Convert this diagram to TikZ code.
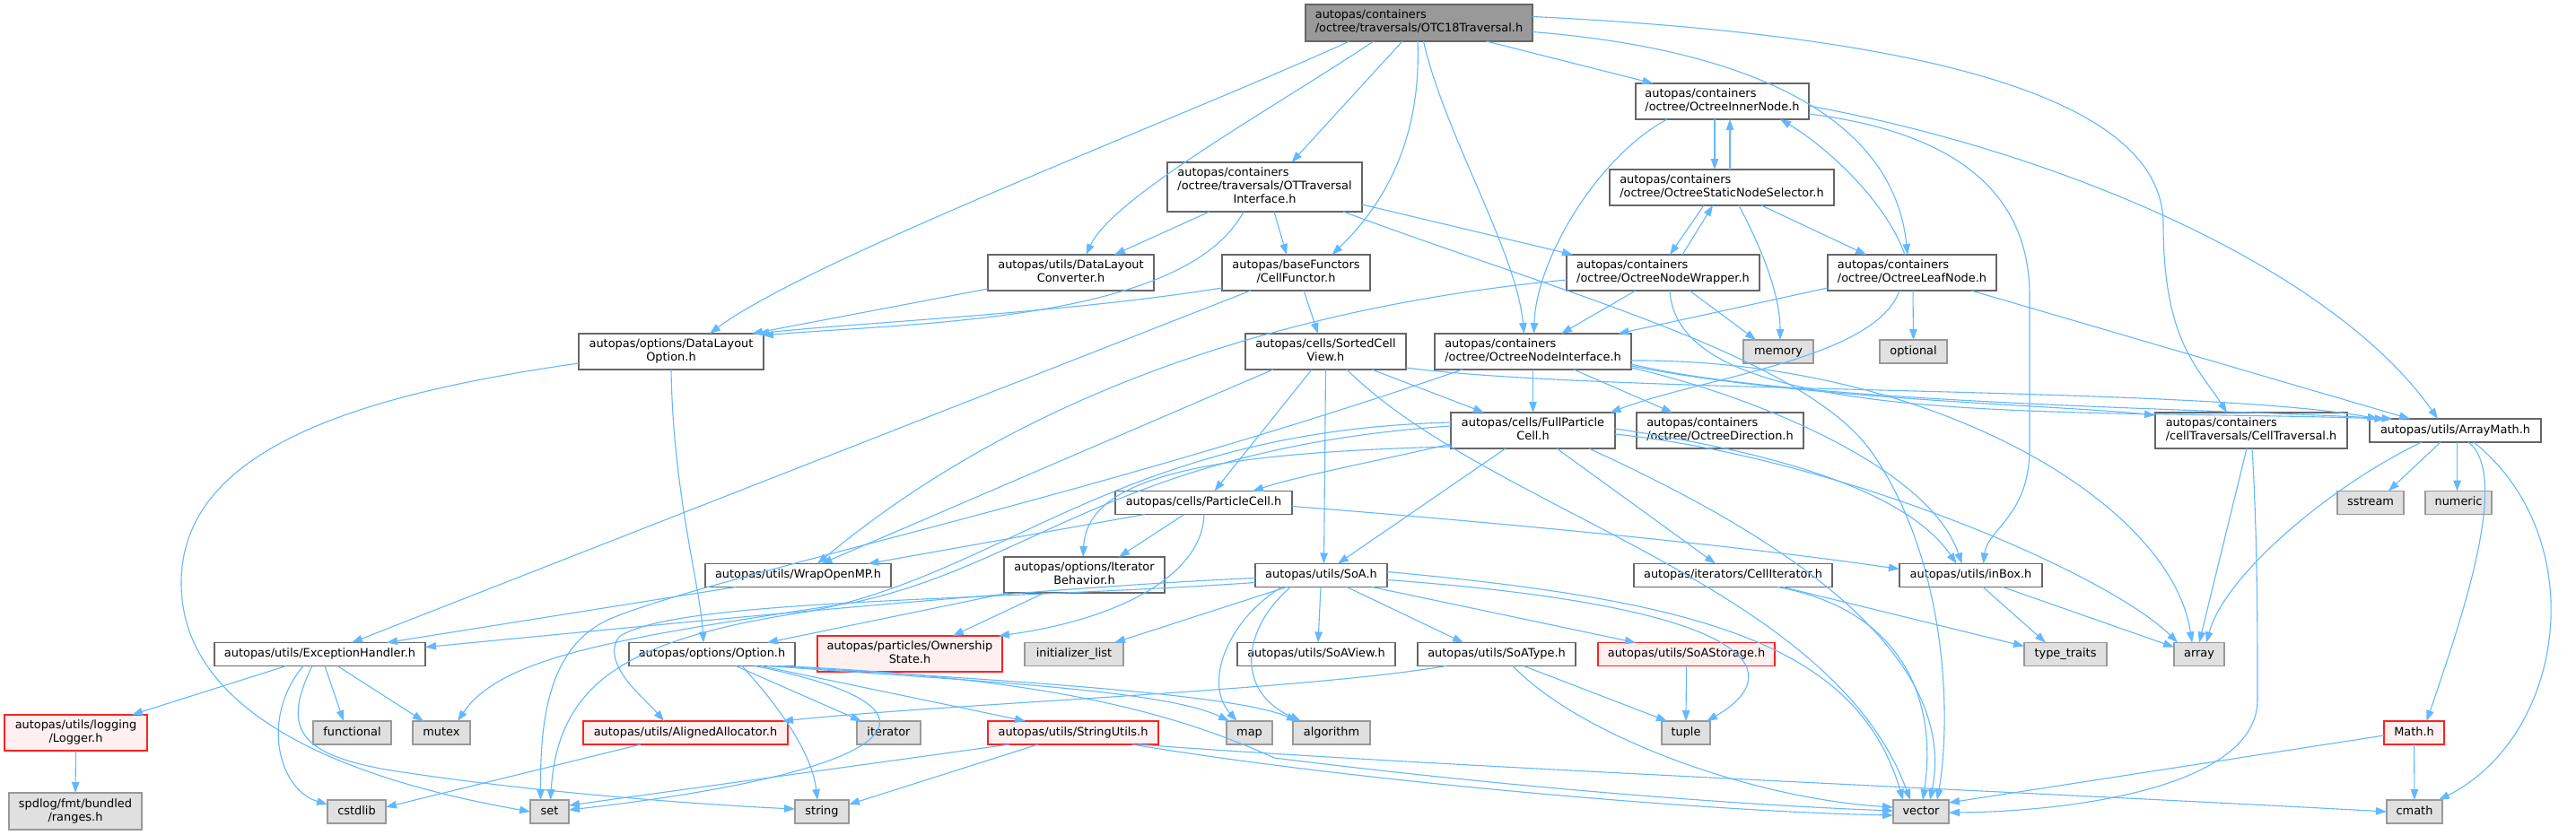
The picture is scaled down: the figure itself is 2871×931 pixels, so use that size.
\documentclass[tikz,border=0pt]{standalone}
\usepackage{fontspec}
\setmainfont{DejaVu Sans}
\usetikzlibrary{arrows.meta,calc}
\definecolor{edgec}{HTML}{63B8FF}
\definecolor{rootfill}{HTML}{999999}
\definecolor{bord}{HTML}{666666}
\definecolor{sysfill}{HTML}{E0E0E0}
\definecolor{sysbord}{HTML}{999999}
\definecolor{trfill}{HTML}{FFF0F0}
\definecolor{trbord}{HTML}{FF2020}
\newcommand\twol[2]{\begin{tabular}{@{}l@{}}#1\\\multicolumn{1}{@{}c@{}}{#2}\end{tabular}}
\begin{document}
\begin{tikzpicture}[x=1pt,y=-1pt,
  nbox/.style={draw=bord,fill=white,line width=1.4pt,inner sep=0pt,outer sep=0pt,align=center,font=\fontsize{12.9}{15}\selectfont},
  one/.style={text height=9.7pt,text depth=2.9pt},
  sys/.style={nbox,one,draw=sysbord,fill=sysfill},
  trunc/.style={nbox,draw=trbord,fill=trfill},
  rootn/.style={nbox,fill=rootfill},
  edg/.style={draw=edgec,line width=1.1pt,-{Triangle[length=12pt,width=8.5pt]}}]
\fill[white] (0,0) rectangle (2871,931);
\useasboundingbox (0,0) rectangle (2871,931);
% ---------------- nodes ----------------
\node[rootn,minimum width=253,minimum height=41] (T) at (1581.5,25.5) {\twol{autopas/containers}{/octree/traversals/OTC18Traversal.h}};
\node[nbox,minimum width=193,minimum height=40] (IN) at (1919.5,113) {\twol{autopas/containers}{/octree/OctreeInnerNode.h}};
\node[nbox,minimum width=217,minimum height=55] (OTI) at (1409.5,208.5) {\twol{autopas/containers\\/octree/traversals/OTTraversal}{Interface.h}};
\node[nbox,minimum width=250,minimum height=40] (SNS) at (1919,209) {\twol{autopas/containers}{/octree/OctreeStaticNodeSelector.h}};
\node[nbox,minimum width=185,minimum height=40] (DLC) at (1193.5,304) {\twol{autopas/utils/DataLayout}{Converter.h}};
\node[nbox,minimum width=165,minimum height=40] (CF) at (1444.5,304) {\twol{autopas/baseFunctors}{/CellFunctor.h}};
\node[nbox,minimum width=215,minimum height=40] (NW) at (1853.5,304) {\twol{autopas/containers}{/octree/OctreeNodeWrapper.h}};
\node[nbox,minimum width=188,minimum height=40] (LN) at (2131,304) {\twol{autopas/containers}{/octree/OctreeLeafNode.h}};
\node[nbox,minimum width=206,minimum height=40] (DLO) at (748,392) {\twol{autopas/options/DataLayout}{Option.h}};
\node[nbox,minimum width=179,minimum height=40] (SCV) at (1477.5,392) {\twol{autopas/cells/SortedCell}{View.h}};
\node[nbox,minimum width=219,minimum height=40] (NI) at (1708.5,392) {\twol{autopas/containers}{/octree/OctreeNodeInterface.h}};
\node[sys,minimum width=78,minimum height=26] (MEM) at (1982,392) {memory};
\node[sys,minimum width=75,minimum height=26] (OPT) at (2132.5,392) {optional};
\node[nbox,minimum width=183,minimum height=40] (FPC) at (1708.5,480) {\twol{autopas/cells/FullParticle}{Cell.h}};
\node[nbox,minimum width=186,minimum height=40] (OD) at (1917,480) {\twol{autopas/containers}{/octree/OctreeDirection.h}};
\node[nbox,minimum width=214,minimum height=40] (CT) at (2509,480) {\twol{autopas/containers}{/cellTraversals/CellTraversal.h}};
\node[nbox,one,minimum width=191,minimum height=26] (AM) at (2736.5,480) {autopas/utils/ArrayMath.h};
\node[nbox,one,minimum width=197,minimum height=26] (PC) at (1341.5,560.5) {autopas/cells/ParticleCell.h};
\node[sys,minimum width=74,minimum height=26] (SS) at (2642,560.5) {sstream};
\node[sys,minimum width=74,minimum height=26] (NUM) at (2740,560.5) {numeric};
\node[nbox,one,minimum width=207,minimum height=26] (WO) at (889.5,641.5) {autopas/utils/WrapOpenMP.h};
\node[nbox,minimum width=179,minimum height=40] (IB) at (1208.5,641) {\twol{autopas/options/Iterator}{Behavior.h}};
\node[nbox,one,minimum width=147,minimum height=26] (SoA) at (1472.5,641.5) {autopas/utils/SoA.h};
\node[nbox,one,minimum width=221,minimum height=26] (CI) at (1931.5,641.5) {autopas/iterators/CellIterator.h};
\node[nbox,one,minimum width=159,minimum height=26] (IBX) at (2196.5,641.5) {autopas/utils/inBox.h};
\node[nbox,one,minimum width=235,minimum height=26] (EH) at (356.5,729.5) {autopas/utils/ExceptionHandler.h};
\node[nbox,one,minimum width=185,minimum height=26] (OPTN) at (793.5,729.5) {autopas/options/Option.h};
\node[trunc,minimum width=206,minimum height=40] (OS) at (1014,729) {\twol{autopas/particles/Ownership}{State.h}};
\node[sys,minimum width=110,minimum height=26] (IL) at (1197,729.5) {initializer\_list};
\node[nbox,one,minimum width=176,minimum height=26] (SV) at (1467,729.5) {autopas/utils/SoAView.h};
\node[nbox,one,minimum width=176,minimum height=26] (ST) at (1668,729.5) {autopas/utils/SoAType.h};
\node[trunc,one,minimum width=197,minimum height=26] (SST) at (1879.5,729.5) {autopas/utils/SoAStorage.h};
\node[sys,minimum width=92,minimum height=26] (TT) at (2302,729.5) {type\_traits};
\node[sys,minimum width=56,minimum height=26] (ARR) at (2451,729.5) {array};
\node[trunc,minimum width=159,minimum height=40] (LOG) at (84.5,817) {\twol{autopas/utils/logging}{/Logger.h}};
\node[sys,minimum width=87,minimum height=26] (FUN) at (392.5,817) {functional};
\node[sys,minimum width=64,minimum height=26] (MUT) at (492,817) {mutex};
\node[trunc,one,minimum width=228,minimum height=26] (AA) at (764,817) {autopas/utils/AlignedAllocator.h};
\node[sys,minimum width=71,minimum height=26] (ITR) at (990.5,817) {iterator};
\node[trunc,one,minimum width=190,minimum height=26] (SU) at (1196,817) {autopas/utils/StringUtils.h};
\node[sys,minimum width=51,minimum height=26] (MAP) at (1392.5,817) {map};
\node[sys,minimum width=86,minimum height=26] (ALG) at (1484,817) {algorithm};
\node[sys,minimum width=54,minimum height=26] (TUP) at (1879,817) {tuple};
\node[trunc,one,minimum width=67,minimum height=26] (MATH) at (2690.5,817) {Math.h};
\node[nbox,draw=sysbord,fill=sysfill,minimum width=148,minimum height=41] (SPD) at (84,904.5) {\twol{spdlog/fmt/bundled}{/ranges.h}};
\node[sys,minimum width=65,minimum height=26] (CST) at (397.5,905) {cstdlib};
\node[sys,minimum width=43,minimum height=26] (SET) at (612.5,905) {set};
\node[sys,minimum width=60,minimum height=26] (STR) at (916,905) {string};
\node[sys,minimum width=62,minimum height=26] (VEC) at (2141,905) {vector};
\node[sys,minimum width=62,minimum height=26] (CM) at (2691,905) {cmath};
% ---------------- edges ----------------
% OTC18Traversal
\draw[edg] ($(T.south)+(-77.5,0)$) .. controls (1320,130) and (900,290) .. ($(DLO.north)+(43,0)$);
\draw[edg] ($(T.south)+(-50.5,0)$) .. controls (1420,120) and (1240,220) .. ($(DLC.north)+(17,0)$);
\draw[edg] ($(T.south)+(-18.5,0)$) -- ($(OTI.north)+(30,0)$);
\draw[edg] ($(T.south)+(-1.5,0)$) .. controls (1585,170) and (1530,240) .. ($(CF.north)+(40,0)$);
\draw[edg] ($(T.south)+(5,0)$) .. controls (1610,150) and (1690,280) .. ($(NI.north)+(-10,0)$);
\draw[edg] ($(T.south)+(75,0)$) -- ($(IN.north)+(-77,0)$);
\draw[edg] ($(T.east)+(0,10)$) .. controls (1950,55) and (2110,130) .. ($(LN.north)+(-5,0)$);
\draw[edg] ($(T.east)+(0,-7)$) .. controls (2150,40) and (2411,110) .. (2411,250) .. controls (2411,380) and (2450,410) .. ($(CT.north)+(-27,0)$);
% OTTraversalInterface
\draw[edg] ($(OTI.south)+(-61.5,0)$) -- ($(DLC.north)+(48.5,0)$);
\draw[edg] ($(OTI.south)+(-23.5,0)$) .. controls (1320,360) and (1010,360) .. ($(DLO.north east)+(-1,2)$);
\draw[edg] ($(OTI.south)+(10.5,0)$) -- ($(CF.north)+(-10.5,0)$);
\draw[edg] ($(OTI.east)+(0,19.5)$) -- ($(NW.north)+(-100.5,0)$);
\draw[edg] ($(OTI.south)+(87.5,0)$) .. controls (1750,330) and (2020,400) .. (2090,510) .. controls (2170,630) and (2175,800) .. ($(VEC.north)+(18,0)$);
% DataLayoutConverter, CellFunctor
\draw[edg] ($(DLC.south west)+(0,-2)$) -- ($(DLO.north east)+(-13,0)$);
\draw[edg] ($(CF.south west)+(0,-3)$) .. controls (1180,350) and (950,360) .. ($(DLO.north east)+(-6,0)$);
\draw[edg] ($(CF.south)+(8.5,0)$) -- ($(SCV.north)+(-8.5,0)$);
\draw[edg] ($(CF.south)+(-50.5,0)$) -- ($(EH.north)+(35.5,0)$);
% OctreeInnerNode
\draw[edg] ($(IN.south)+(-8.5,0)$) -- ($(SNS.north)+(-8,0)$);
\draw[edg] ($(SNS.north)+(9,0)$) -- ($(IN.south)+(8.5,0)$);
\draw[edg] ($(IN.south)+(-61.5,0)$) .. controls (1780,175) and (1712,290) .. ($(NI.north)+(1,0)$);
\draw[edg] ($(IN.east)+(0,14)$) .. controls (2200,150) and (2262,230) .. (2262,330) -- (2262,500) .. controls (2262,575) and (2215,590) .. ($(IBX.north)+(14,0)$);
\draw[edg] ($(IN.east)+(0,5)$) .. controls (2300,170) and (2600,300) .. ($(AM.north)+(-19.5,0)$);
% OctreeStaticNodeSelector
\draw[edg] ($(SNS.south)+(-20,0)$) -- ($(NW.north)+(7.5,0)$);
\draw[edg] ($(NW.north)+(21.5,0)$) -- ($(SNS.south)+(-10,0)$);
\draw[edg] ($(SNS.south)+(19,0)$) .. controls (1965,280) and (1984,330) .. ($(MEM.north)+(2,0)$);
\draw[edg] ($(SNS.south)+(44,0)$) -- ($(LN.north)+(-51,0)$);
% OctreeLeafNode
\draw[edg] ($(LN.north)+(-8,0)$) .. controls (2100,220) and (2030,160) .. ($(IN.south)+(64.5,0)$);
\draw[edg] ($(LN.south west)+(0,-3)$) -- ($(NI.north)+(95,0)$);
\draw[edg] ($(LN.south)+(-14,0)$) .. controls (2090,400) and (1900,420) .. ($(FPC.north)+(86,0)$);
\draw[edg] ($(LN.south)+(1,0)$) -- (OPT.north);
\draw[edg] ($(LN.south)+(66,0)$) -- ($(AM.north)+(-50.5,0)$);
% OctreeNodeWrapper
\draw[edg] ($(NW.south)+(-30.5,0)$) -- ($(NI.north)+(31.5,0)$);
\draw[edg] ($(NW.south)+(29.5,0)$) -- ($(MEM.north)+(-25,0)$);
\draw[edg] ($(NW.west)+(0,8)$) .. controls (1450,340) and (1150,430) .. ($(WO.north)+(21.5,0)$);
\draw[edg] ($(NW.south)+(7.5,0)$) .. controls (1870,480) and (2300,455) .. ($(AM.north)+(-78,0)$);
% SortedCellView
\draw[edg] ($(SCV.south)+(51.5,0)$) -- ($(FPC.north)+(-54.5,0)$);
\draw[edg] ($(SCV.south)+(-15.5,0)$) -- ($(PC.north)+(12,0)$);
\draw[edg] (SCV.south) -- ($(SoA.north)+(3,0)$);
\draw[edg] ($(SCV.south)+(23.5,0)$) .. controls (1660,570) and (2040,650) .. ($(VEC.north)+(-12,0)$);
\draw[edg] ($(SCV.south)+(-58.5,0)$) -- ($(WO.north)+(26,0)$);
\draw[edg] ($(SCV.east)+(0,18)$) .. controls (1800,440) and (2450,430) .. ($(AM.north)+(-86,0)$);
% OctreeNodeInterface
\draw[edg] (NI.south) -- (FPC.north);
\draw[edg] ($(NI.south)+(45.5,0)$) -- ($(OD.north)+(-53,0)$);
\draw[edg] ($(NI.south)+(-78.5,0)$) .. controls (1200,560) and (800,640) .. (680,690) .. controls (612,720) and (602,800) .. ($(SET.north)+(-10,0)$);
\draw[edg] ($(NI.east)+(0,18)$) .. controls (1950,440) and (2150,520) .. ($(IBX.north)+(-10,0)$);
\draw[edg] ($(NI.east)+(0,14)$) .. controls (2000,450) and (2450,455) .. ($(AM.north)+(-70,0)$);
\draw[edg] ($(NI.east)+(0,16)$) .. controls (2000,445) and (2300,452) .. ($(CT.west)+(0,-17)$);
\draw[edg] ($(NI.east)+(0,10)$) .. controls (2150,400) and (2420,560) .. ($(ARR.north)+(-8,0)$);
% FullParticleCell
\draw[edg] ($(FPC.west)+(0,15)$) .. controls (1530,515) and (1450,530) .. ($(PC.north)+(54.5,0)$);
\draw[edg] ($(FPC.west)+(0,18)$) .. controls (1350,505) and (1212,530) .. ($(IB.north)+(-1.5,0)$);
\draw[edg] ($(FPC.south)+(-30.5,0)$) -- ($(SoA.north)+(18.5,0)$);
\draw[edg] ($(FPC.south)+(26.5,0)$) -- ($(CI.north)+(-19.5,0)$);
\draw[edg] ($(FPC.south)+(62.5,0)$) .. controls (1900,560) and (2190,700) .. ($(VEC.north)+(10,0)$);
\draw[edg] ($(FPC.east)+(0,-2)$) .. controls (1950,500) and (2120,540) .. ($(IBX.north)+(-16,0)$);
\draw[edg] ($(FPC.east)+(0,4)$) .. controls (2050,510) and (2350,640) .. ($(ARR.north west)+(4,0)$);
\draw[edg] ($(FPC.west)+(0,-5)$) .. controls (1250,500) and (1150,630) .. (950,672) .. controls (700,710) and (560,730) .. ($(MUT.north)+(18,0)$);
\draw[edg] ($(FPC.west)+(0,-9)$) .. controls (1250,480) and (1120,640) .. (900,682) .. controls (700,712) and (622,760) .. ($(SET.north)+(1,0)$);
% ParticleCell
\draw[edg] ($(PC.south)+(-65.5,0)$) -- ($(WO.north)+(78,0)$);
\draw[edg] ($(PC.south)+(-21.5,0)$) -- ($(IB.north)+(38.5,0)$);
\draw[edg] ($(PC.south)+(0.5,0)$) .. controls (1340,640) and (1250,690) .. ($(OS.north east)+(-4,0)$);
\draw[edg] ($(PC.east)+(0,4)$) .. controls (1700,585) and (1950,610) .. ($(IBX.west)+(0,-7)$);
% IteratorBehavior, WrapOpenMP
\draw[edg] ($(IB.south west)+(5,0)$) -- ($(OPTN.north)+(61.5,0)$);
\draw[edg] ($(IB.south)+(-44.5,0)$) -- ($(OS.north)+(48,0)$);
\draw[edg] ($(WO.south)+(-69.5,0)$) -- ($(EH.north)+(74.5,0)$);
% SoA
\draw[edg] ($(SoA.west)+(0,3)$) .. controls (1150,655) and (700,700) .. ($(EH.east)+(0,-8)$);
\draw[edg] ($(SoA.west)+(0,8)$) .. controls (1100,670) and (750,668) .. (690,710) .. controls (668,740) and (720,780) .. ($(AA.north)+(-24,0)$);
\draw[edg] ($(SoA.south)+(-38.5,0)$) -- ($(IL.north)+(45,0)$);
\draw[edg] ($(SoA.south)+(-0.5,0)$) -- ($(SV.north)+(2,0)$);
\draw[edg] ($(SoA.south)+(28.5,0)$) -- ($(ST.north)+(-37,0)$);
\draw[edg] ($(SoA.south)+(56.5,0)$) -- ($(SST.north)+(-56.5,0)$);
\draw[edg] ($(SoA.east)+(0,5)$) .. controls (2000,680) and (1980,760) .. ($(TUP.north)+(23,0)$);
\draw[edg] ($(SoA.east)+(0,-4)$) .. controls (1900,670) and (2070,720) .. ($(VEC.north)+(-20,0)$);
\draw[edg] ($(SoA.south)+(-44,0)$) .. controls (1370,690) and (1340,760) .. ($(MAP.north)+(-14,0)$);
\draw[edg] ($(SoA.south)+(-34,0)$) .. controls (1385,700) and (1375,770) .. ($(ALG.north)+(-34,0)$);
% SoAType, SoAStorage
\draw[edg] ($(ST.south)+(-56,0)$) .. controls (1450,770) and (1050,785) .. ($(AA.north east)+(-6,0)$);
\draw[edg] ($(ST.south)+(30,0)$) -- ($(TUP.north)+(-21,0)$);
\draw[edg] ($(ST.south)+(18,0)$) .. controls (1760,820) and (1950,890) .. ($(VEC.west)+(0,-5)$);
\draw[edg] (SST.south) -- (TUP.north);
% CellIterator, inBox, CellTraversal
\draw[edg] ($(CI.south)+(49.5,0)$) .. controls (2120,680) and (2160,780) .. ($(VEC.north)+(2,0)$);
\draw[edg] ($(CI.south)+(55.5,0)$) -- ($(TT.west)+(0,-9)$);
\draw[edg] ($(IBX.south)+(13.5,0)$) -- ($(TT.north)+(-22,0)$);
\draw[edg] ($(IBX.south)+(35.5,0)$) -- ($(ARR.west)+(0,-8)$);
\draw[edg] ($(CT.south)+(-5,0)$) -- (ARR.north);
\draw[edg] ($(CT.south)+(1,0)$) .. controls (2516,600) and (2516,700) .. (2516,780) .. controls (2516,880) and (2300,905) .. ($(VEC.east)+(0,1)$);
% ArrayMath, Math
\draw[edg] ($(AM.south)+(-16.5,0)$) -- ($(SS.north)+(20,0)$);
\draw[edg] ($(AM.south)+(2,0)$) -- ($(NUM.north)+(-1.5,0)$);
\draw[edg] ($(AM.south)+(-37.5,0)$) .. controls (2600,540) and (2480,640) .. ($(ARR.north)+(8,0)$);
\draw[edg] ($(AM.south)+(14.5,0)$) .. controls (2800,530) and (2740,700) .. ($(MATH.north)+(14,0)$);
\draw[edg] ($(AM.south)+(20.5,0)$) .. controls (2890,600) and (2860,820) .. ($(CM.north east)+(-4,0)$);
\draw[edg] ($(MATH.west)+(0,3)$) -- ($(VEC.north east)+(0,3)$);
\draw[edg] (MATH.south) -- (CM.north);
% ExceptionHandler
\draw[edg] ($(EH.south)+(-37.5,0)$) -- ($(LOG.north)+(62.5,0)$);
\draw[edg] ($(EH.south)+(-18.5,0)$) .. controls (290,800) and (310,880) .. ($(CST.west)+(0,-8)$);
\draw[edg] ($(EH.south)+(-8.5,0)$) .. controls (315,810) and (330,840) .. (430,858) .. controls (600,885) and (800,898) .. ($(STR.west)+(0,-3)$);
\draw[edg] ($(EH.south)+(5.5,0)$) -- ($(FUN.north)+(-9.5,0)$);
\draw[edg] ($(EH.south)+(19.5,0)$) -- ($(MUT.north)+(-20,0)$);
\draw[edg] (LOG.south) -- (SPD.north);
\draw[edg] ($(AA.south)+(-50,0)$) -- ($(CST.east)+(0,-5)$);
% DataLayoutOption
\draw[edg] (DLO.south) .. controls (750,550) and (780,650) .. ($(OPTN.north)+(-9.5,0)$);
\draw[edg] ($(DLO.west)+(0,13)$) .. controls (400,440) and (202,500) .. (202,650) .. controls (202,820) and (450,880) .. (SET.west);
% Option
\draw[edg] ($(OPTN.south)+(26.5,0)$) -- ($(ITR.north)+(-30.5,0)$);
\draw[edg] ($(OPTN.south)+(33.5,0)$) .. controls (870,790) and (905,840) .. ($(STR.north)+(-5,0)$);
\draw[edg] ($(OPTN.south)+(47.5,0)$) .. controls (1080,790) and (1010,860) .. ($(SET.east)+(0,-2)$);
\draw[edg] ($(OPTN.south)+(54.5,0)$) -- ($(SU.north)+(-53,0)$);
\draw[edg] ($(OPTN.south)+(61.5,0)$) .. controls (1100,760) and (1300,770) .. ($(MAP.north west)+(3,0)$);
\draw[edg] ($(OPTN.south)+(68.5,0)$) .. controls (1150,760) and (1380,775) .. ($(ALG.north west)+(5,0)$);
\draw[edg] ($(OPTN.south)+(75.5,0)$) .. controls (1150,755) and (1300,790) .. (1420,845) .. controls (1700,880) and (1950,898) .. ($(VEC.west)+(0,-1)$);
% StringUtils
\draw[edg] ($(SU.south)+(-71,0)$) -- ($(SET.east)+(0,-7)$);
\draw[edg] ($(SU.south)+(-39,0)$) -- ($(STR.east)+(0,-8)$);
\draw[edg] ($(SU.south)+(66,0)$) .. controls (1500,870) and (1900,905) .. ($(VEC.west)+(0,4)$);
\draw[edg] ($(SU.south)+(72,0)$) .. controls (1600,855) and (2300,885) .. (CM.west);
\end{tikzpicture}
\end{document}
